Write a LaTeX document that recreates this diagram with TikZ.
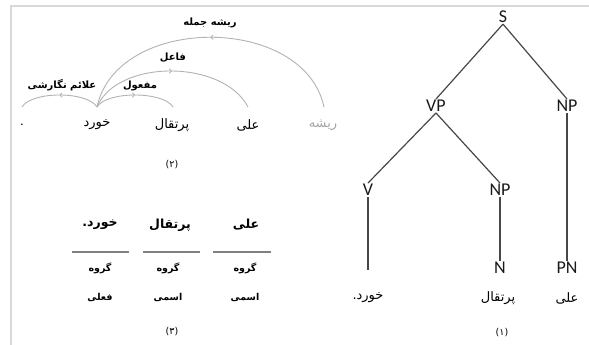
\documentclass[tikz,border=0pt]{standalone}
\usepackage{fontspec}
\setmainfont{Carlito}
\newfontfamily\fafont[Script=Arabic]{DejaVu Sans}
\TeXXeTstate=1
\usetikzlibrary{decorations.markings,arrows.meta}
\newcommand\FA[1]{{\fafont\beginR #1\endR}}
\begin{document}
\begin{tikzpicture}[x=1pt,y=-1pt,
  treelbl/.style={font=\fontsize{18}{20}\selectfont, inner sep=1pt, text=black!90},
  treeedge/.style={draw=black!72, line width=1.2pt},
  faword/.style={font=\fontsize{13}{15}\selectfont, inner sep=1pt},
  fabold/.style={font=\bfseries\fontsize{12.5}{14}\selectfont, inner sep=1pt},
  fasmall/.style={font=\bfseries\fontsize{9.5}{11}\selectfont, inner sep=1pt},
  arclbl/.style={font=\bfseries\fontsize{10}{12}\selectfont, inner sep=1pt},
  numlbl/.style={font=\fontsize{9.5}{11}\selectfont, inner sep=1pt},
  deparc/.style={draw=black!30, color=black!30, line width=0.9pt, postaction={decorate},
     decoration={markings, mark=at position 0.5 with {\arrow{To[length=3pt,width=5pt]}}}},
  sepline/.style={draw=black!50, line width=1.1pt},
  framel/.style={draw=black!15, line width=1.2pt}
]
\useasboundingbox (0,0) rectangle (589,345);
% frame
\coordinate (ftl) at (11,6);
\coordinate (ftr) at (589,6);
\coordinate (fbl) at (11,345);
\draw[framel] (fbl) -- (ftl) -- (ftr);

% ---------- tree (1)
\node[treelbl] (S) at (503,17) {S};
\node[treelbl] (VP) at (436,106) {VP};
\node[treelbl] (NPa) at (567,106) {NP};
\node[treelbl] (V) at (368,190) {V};
\node[treelbl] (NPb) at (500,190) {NP};
\node[treelbl] (N) at (500,268) {N};
\node[treelbl] (PN) at (567,268) {PN};
\coordinate (vend) at (368,270);
\node[faword] (t1) at (368,298) {\FA{خورد.}};
\node[faword] (t2) at (498,298) {\FA{پرتقال}};
\node[faword] (t3) at (567,298) {\FA{علی}};
\node[numlbl] (n1) at (502,333) {\fafont(۱)};
\draw[treeedge] (S.south) -- (VP.north);
\draw[treeedge] (S.south) -- (NPa.north);
\draw[treeedge] (VP.south) -- (V.north);
\draw[treeedge] (VP.south) -- (NPb.north);
\draw[treeedge] (NPa.south) -- (PN.north);
\draw[treeedge] (NPb.south) -- (N.north);
\draw[treeedge] (V.south) -- (vend);

% ---------- dependency (2)
\node[faword] (dot) at (22,125) {.};
\node[faword] (kh) at (97,125) {\FA{خورد}};
\node[faword] (po) at (172,125) {\FA{پرتقال}};
\node[faword] (al) at (248,125) {\FA{علی}};
\node[faword, text=black!35] (ri) at (323,125) {\FA{ریشه}};
\coordinate (adot) at (22,107);
\coordinate (akh) at (97,107);
\coordinate (apo) at (173,107);
\coordinate (aal) at (248,107);
\coordinate (ari) at (324,107);
\draw[deparc] (akh) .. controls +(-10,-16) and +(10,-16) .. (adot);
\draw[deparc] (akh) .. controls +(10,-16) and +(-10,-16) .. (apo);
\draw[deparc] (akh) .. controls +(20,-48) and +(-25,-48) .. (aal);
\draw[deparc] (ari) .. controls +(-20,-93) and +(20,-93) .. (akh);
\node[arclbl] (l1) at (62,85) {\FA{علائم نگارشی}};
\node[arclbl] (l2) at (140,86) {\FA{مفعول}};
\node[arclbl] (l3) at (173,58) {\FA{فاعل}};
\node[arclbl] (l4) at (210,23) {\FA{ریشه جمله}};
\node[numlbl] (n2) at (172,165) {\fafont(۲)};

% ---------- table (3)
\node[fabold] (w1) at (100,225) {\FA{خورد.}};
\node[fabold] (w2) at (170,225) {\FA{پرتقال}};
\node[fabold] (w3) at (246,225) {\FA{علی}};
\coordinate (s1a) at (72,252); \coordinate (s1b) at (129,252);
\coordinate (s2a) at (143,252); \coordinate (s2b) at (200,252);
\coordinate (s3a) at (213,252); \coordinate (s3b) at (271,252);
\draw[sepline] (s1a) -- (s1b);
\draw[sepline] (s2a) -- (s2b);
\draw[sepline] (s3a) -- (s3b);
\node[fasmall] (g1) at (100,268) {\FA{گروه}};
\node[fasmall] (g2) at (168,268) {\FA{گروه}};
\node[fasmall] (g3) at (245,268) {\FA{گروه}};
\node[fasmall] (c1) at (100,297) {\FA{فعلی}};
\node[fasmall] (c2) at (168,297) {\FA{اسمی}};
\node[fasmall] (c3) at (245,297) {\FA{اسمی}};
\node[numlbl] (n3) at (172,332) {\fafont(۳)};
\end{tikzpicture}
\end{document}
